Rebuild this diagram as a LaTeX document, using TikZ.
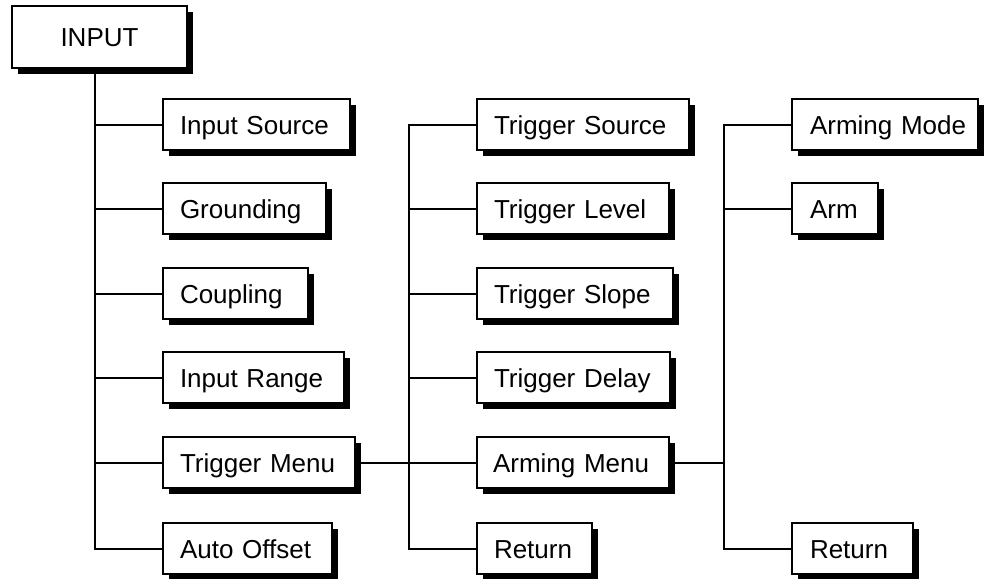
\documentclass[tikz,border=0pt]{standalone}
\usepackage{fontspec}
\setmainfont{Liberation Sans}
\usetikzlibrary{shadows}
\tikzset{
  box/.style={draw, line width=2pt, fill=white, anchor=north west,
    minimum height=51pt, inner xsep=0pt, inner ysep=0pt, align=left,
    text height=19pt, text depth=0pt,
    font=\fontsize{26}{30}\selectfont,
    drop shadow={shadow xshift=6pt, shadow yshift=-6pt, fill=black, opacity=1}},
  conn/.style={line width=2pt},
}
\newcommand{\bx}[2]{\hspace*{#1pt}\mbox{#2}}
\begin{document}
\begin{tikzpicture}[x=1pt, y=-1pt]
\useasboundingbox (0,0) rectangle (984,578);
% root
\node[box, align=center, text width=175pt, minimum height=62pt] (input) at (11,5) {\mbox{INPUT}};
% left column
\node[box, text width=187pt] (isrc) at (162,98) {\bx{17}{Input Source}};
\node[box, text width=163pt] (grnd) at (162,182) {\bx{17}{Grounding}};
\node[box, text width=145pt] (coup) at (162,267) {\bx{17}{Coupling}};
\node[box, text width=181pt] (irng) at (162,351) {\bx{17}{Input Range}};
\node[box, text width=192pt] (tmenu) at (162,436) {\bx{17}{Trigger Menu}};
\node[box, text width=169pt] (aoff) at (162,522) {\bx{17}{Auto Offset}};
% middle column
\node[box, text width=212pt] (tsrc) at (476,98) {\bx{17}{Trigger Source}};
\node[box, text width=192pt] (tlev) at (476,182) {\bx{17}{Trigger Level}};
\node[box, text width=196pt] (tslp) at (476,267) {\bx{17}{Trigger Slope}};
\node[box, text width=193pt] (tdel) at (476,351) {\bx{17}{Trigger Delay}};
\node[box, text width=192pt] (amenu) at (476,436) {\bx{16}{Arming Menu}};
\node[box, text width=115pt] (mret) at (476,522) {\bx{17}{Return}};
% right column
\node[box, text width=186pt] (amode) at (791,98) {\bx{18}{Arming Mode}};
\node[box, text width=86pt] (arm) at (791,182) {\bx{18}{Arm}};
\node[box, text width=121pt] (rret) at (791,522) {\bx{18}{Return}};
% trunk coordinates
\coordinate (t1) at (95,0);
\coordinate (t2) at (409,0);
\coordinate (t3) at (724,0);
% connectors
\draw[conn] (input.south -| t1) -- (t1 |- aoff.west) -- (aoff.west);
\foreach \n in {isrc,grnd,coup,irng,tmenu}
  \draw[conn] (t1 |- \n.west) -- (\n.west);
\draw[conn] (tsrc.west) -- (t2 |- tsrc.west) -- (t2 |- mret.west) -- (mret.west);
\foreach \n in {tlev,tslp,tdel}
  \draw[conn] (t2 |- \n.west) -- (\n.west);
\draw[conn] (tmenu.east) -- (amenu.west);
\draw[conn] (amode.west) -- (t3 |- amode.west) -- (t3 |- rret.west) -- (rret.west);
\draw[conn] (t3 |- arm.west) -- (arm.west);
\draw[conn] (amenu.east) -- (t3 |- amenu.east);
\end{tikzpicture}
\end{document}
